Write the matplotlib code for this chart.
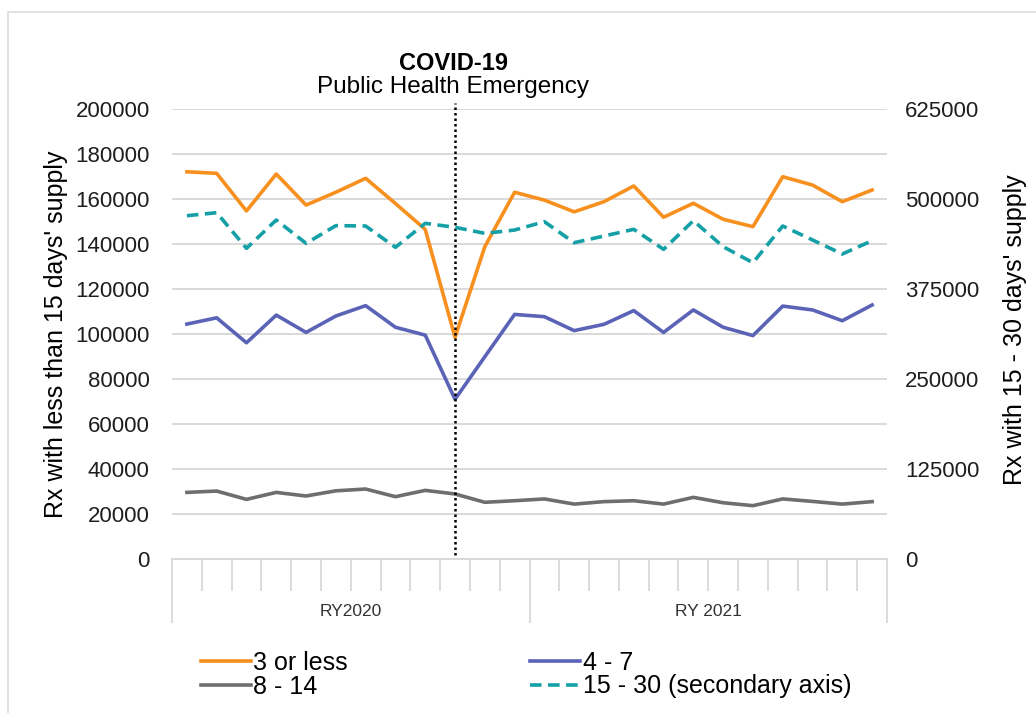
import matplotlib
matplotlib.use("Agg")
import matplotlib.pyplot as plt
import matplotlib.transforms as mtransforms
from matplotlib.patches import Rectangle
from matplotlib.lines import Line2D

plt.rcParams["font.family"] = ["Liberation Sans", "DejaVu Sans"]

# ── data: 24 report months (RY2020 + RY 2021) ──────────────────────────────
months = list(range(24))
groups = ["RY2020", "RY 2021"]
covid_month = 9

rx_3_or_less = [172100, 171400, 154700, 171100, 157300, 163000, 169200, 158000,
                146500, 98500, 138800, 163000, 159500, 154300, 158800, 165800,
                151900, 158100, 151000, 147700, 169900, 166200, 158800, 164000]
rx_4_7 = [104400, 107200, 96100, 108400, 100700, 108000, 112600, 103000,
          99500, 71000, 89900, 108700, 107700, 101500, 104300, 110400,
          100700, 110700, 103000, 99300, 112400, 110700, 105900, 112900]
rx_8_14 = [29600, 30200, 26500, 29600, 28000, 30300, 31100, 27700,
           30500, 28900, 25200, 25900, 26700, 24400, 25500, 25900,
           24400, 27400, 25000, 23700, 26700, 25600, 24400, 25500]
rx_15_30 = [476800, 481000, 431500, 470800, 438400, 463000, 462500, 432900,
            466200, 460700, 452300, 456900, 468500, 439300, 448600, 457900,
            430100, 469900, 433800, 411500, 462500, 443100, 423600, 442100]

left_ticks = [0, 20000, 40000, 60000, 80000, 100000, 120000, 140000, 160000, 180000, 200000]
right_ticks = [0, 125000, 250000, 375000, 500000, 625000]

C_ORANGE = "#F7901E"
C_BLUE = "#5B63B7"
C_GRAY = "#6E6E6E"
C_TEAL = "#14A0A6"
C_GRID = "#D9D9D9"

W, H = 1036, 713
fig = plt.figure(figsize=(W / 100, H / 100), dpi=100)

# light chart-area border
fig.patches.append(Rectangle((8 / W, -0.01), 1.02, 1 - 12 / H + 0.01,
                             transform=fig.transFigure, fill=False,
                             edgecolor="#DCDCDC", linewidth=1.2))

ax = fig.add_axes([172 / W, 1 - 559 / H, (887 - 172) / W, 450 / H])
ax2 = ax.twinx()

ax.plot(months, rx_3_or_less, color=C_ORANGE, lw=2.6, zorder=3)
ax.plot(months, rx_4_7, color=C_BLUE, lw=2.6, zorder=3)
ax.plot(months, rx_8_14, color=C_GRAY, lw=2.6, zorder=3)
ax2.plot(months, rx_15_30, color=C_TEAL, lw=2.6, ls=(0, (3.2, 1.8)), zorder=3)

ax.set_xlim(-0.5, 23.5)
ax.set_ylim(0, 200000)
ax2.set_ylim(0, 625000)
ax.set_yticks(left_ticks)
ax2.set_yticks(right_ticks)
ax.yaxis.grid(True, color=C_GRID, lw=1.4)
ax.set_axisbelow(True)

for a in (ax, ax2):
    for s in ("left", "right", "top"):
        a.spines[s].set_visible(False)
ax.spines["bottom"].set_color(C_GRID)
ax.spines["bottom"].set_linewidth(1.4)
ax2.spines["bottom"].set_visible(False)

ax.tick_params(axis="y", length=0, pad=16, labelsize=16, labelcolor="#1E1E1E")
ax2.tick_params(axis="y", length=0, pad=13, labelsize=16, labelcolor="#1E1E1E")

# category axis: short ticks between months, long ticks between years
bounds = [m - 0.5 for m in months] + [23.5]
ax.set_xticks([b for b in bounds if b not in (-0.5, 11.5, 23.5)], minor=True)
ax.set_xticks([-0.5, 11.5, 23.5])
ax.set_xticklabels([])
ax.tick_params(axis="x", which="minor", length=23, width=1.3, color=C_GRID)
ax.tick_params(axis="x", which="major", length=46, width=1.3, color=C_GRID)
ax2.tick_params(axis="x", which="both", length=0)

trans = mtransforms.blended_transform_factory(ax.transData, ax.transAxes)
ax.text(5.5, -0.116, groups[0], transform=trans, ha="center", va="center",
        fontsize=12.5, color="#333333")
ax.text(17.5, -0.116, groups[1], transform=trans, ha="center", va="center",
        fontsize=12.5, color="#333333")

# COVID-19 marker
ax.axvline(covid_month, ymin=0.01, ymax=1.013, color="black", lw=1.8,
           ls=(0, (1, 1.2)), clip_on=False, zorder=4)
fig.text(453 / W, 1 - 63 / H, "COVID-19", ha="center", va="center",
         fontsize=17, fontweight="bold")
fig.text(453 / W, 1 - 87 / H, "Public Health Emergency", ha="center",
         va="center", fontsize=17.5)

fig.text(56 / W, 1 - 334 / H, "Rx with less than 15 days' supply", rotation=90,
         ha="center", va="center", fontsize=18)
fig.text(1015 / W, 1 - 330 / H, "Rx with 15 - 30 days' supply", rotation=90,
         ha="center", va="center", fontsize=18)

handles = [Line2D([], [], color=C_ORANGE, lw=2.6),
           Line2D([], [], color=C_GRAY, lw=2.6),
           Line2D([], [], color=C_BLUE, lw=2.6),
           Line2D([], [], color=C_TEAL, lw=2.6, ls=(0, (3.2, 1.8)))]
labels = ["3 or less", "8 - 14", "4 - 7", "15 - 30 (secondary axis)"]
fig.legend(handles, labels, ncol=2, frameon=False, loc="upper left",
           bbox_to_anchor=(188 / W, 1 - 638 / H), fontsize=18,
           handlelength=2.0, handletextpad=0.1, columnspacing=7.3,
           labelspacing=0.0, borderpad=0.0)

fig.savefig("out.png", dpi=100)
